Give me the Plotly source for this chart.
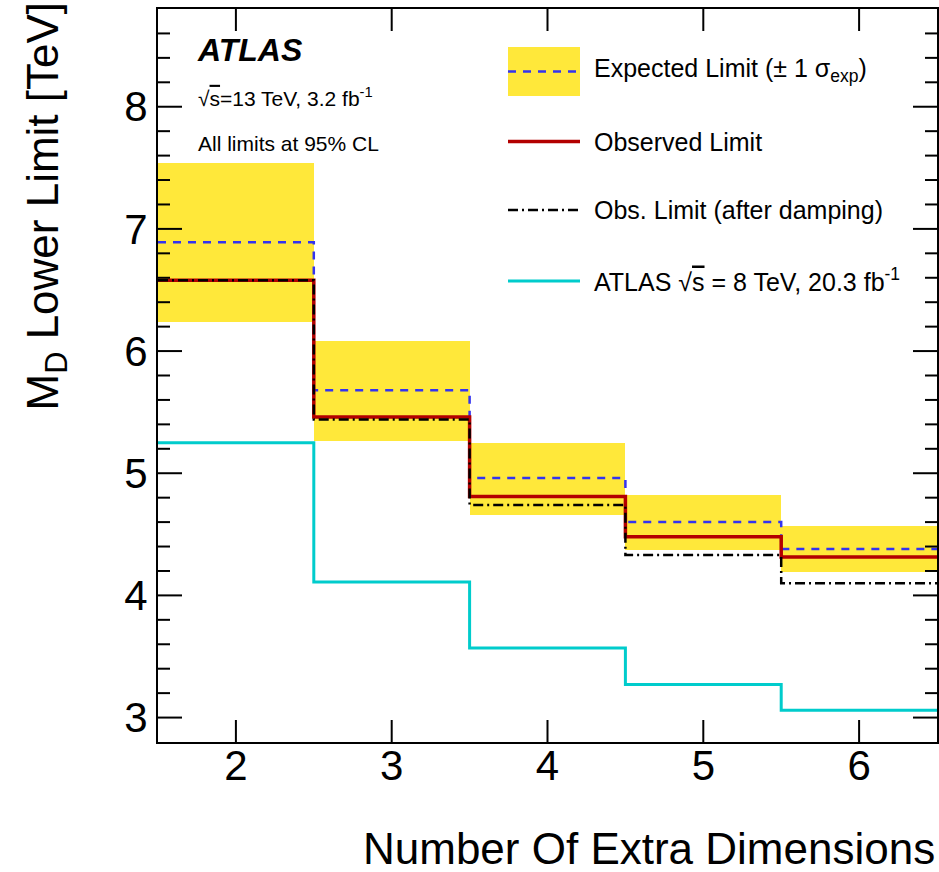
import plotly.graph_objects as go

# Number of extra dimensions (bin centres) and bin edges
n_dims = [2, 3, 4, 5, 6]
edges = [1.5, 2.5, 3.5, 4.5, 5.5, 6.5]

# Lower limits on M_D [TeV]
expected = [6.89, 5.68, 4.96, 4.60, 4.38]
exp_up = [7.54, 6.08, 5.25, 4.82, 4.57]
exp_down = [6.24, 5.26, 4.66, 4.37, 4.19]
observed = [6.58, 5.46, 4.81, 4.48, 4.315]
observed_damped = [6.58, 5.44, 4.74, 4.33, 4.10]
atlas_8tev = [5.25, 4.11, 3.57, 3.27, 3.06]

# Axis ranges and ticks
x_range = [1.5, 6.5]
y_range = [2.8, 8.8]
x_ticks = [2, 3, 4, 5, 6]
y_ticks = [3, 4, 5, 6, 7, 8]
y_minor_ticks = [3.2, 3.4, 3.6, 3.8, 4.2, 4.4, 4.6, 4.8, 5.2, 5.4, 5.6, 5.8,
                 6.2, 6.4, 6.6, 6.8, 7.2, 7.4, 7.6, 7.8, 8.2, 8.4, 8.6]

W, H = 939, 872
L, R, T, B = 158, 2, 9, 130
FONT = "Liberation Sans, Arial, Helvetica, sans-serif"

YELLOW = "#ffe83a"
BLUE = "#3333f0"
RED = "#b30000"
CYAN = "#00cccc"

SQRT_S = "√<span style='text-decoration:overline'>s</span>"

# Plot-area size in pixels, used to express tick lengths in axis units
PLOT_W = W - L - R
PLOT_H = H - T - B
X_PER_PX = (x_range[1] - x_range[0]) / PLOT_W
Y_PER_PX = (y_range[1] - y_range[0]) / PLOT_H


def step(vals):
    return vals + [vals[-1]]


def px(xp):
    return (xp - L) / PLOT_W


def py(yp):
    return 1 - (yp - T) / PLOT_H


fig = go.Figure()

# ±1 sigma expected band, one box per bin
fig.add_trace(go.Bar(
    x=n_dims, y=[u - d for u, d in zip(exp_up, exp_down)], base=exp_down,
    width=1.0, marker=dict(color=YELLOW, line=dict(width=0)),
    showlegend=False, hoverinfo="skip"))

fig.add_trace(go.Scatter(
    x=edges, y=step(atlas_8tev), mode="lines", line_shape="hv",
    line=dict(color=CYAN, width=3), showlegend=False))
fig.add_trace(go.Scatter(
    x=edges, y=step(expected), mode="lines", line_shape="hv",
    line=dict(color=BLUE, width=2.5, dash="8px,7px"), showlegend=False))
fig.add_trace(go.Scatter(
    x=edges, y=step(observed), mode="lines", line_shape="hv",
    line=dict(color=RED, width=3.5), showlegend=False))
fig.add_trace(go.Scatter(
    x=edges, y=step(observed_damped), mode="lines", line_shape="hv",
    line=dict(color="black", width=2.5, dash="10px,4px,2px,4px"), showlegend=False))

# Inward tick marks on all four sides of the frame, as short line segments
tx, ty = [], []
dx = 22 * Y_PER_PX
for xv in x_ticks:
    tx += [xv, xv, None, xv, xv, None]
    ty += [y_range[0], y_range[0] + dx, None, y_range[1], y_range[1] - dx, None]
for vals, ln in ((y_ticks, 24), (y_minor_ticks, 12)):
    d = ln * X_PER_PX
    for yv in vals:
        tx += [x_range[0], x_range[0] + d, None, x_range[1], x_range[1] - d, None]
        ty += [yv, yv, None, yv, yv, None]
fig.add_trace(go.Scatter(
    x=tx, y=ty, mode="lines", line=dict(color="black", width=2),
    connectgaps=False, showlegend=False, hoverinfo="skip"))

fig.update_layout(
    template="none",
    xaxis=dict(
        range=x_range, tickmode="array", tickvals=x_ticks, ticks="",
        showline=True, linecolor="black", linewidth=2, mirror=True,
        showgrid=False, zeroline=False,
        ticklabelstandoff=-14,
        tickfont=dict(family=FONT, size=42, color="black"),
    ),
    yaxis=dict(
        range=y_range, tickmode="array", tickvals=y_ticks, ticks="",
        showline=True, linecolor="black", linewidth=2, mirror=True,
        showgrid=False, zeroline=False,
        tickfont=dict(family=FONT, size=42, color="black"),
    ),
)

shapes = []
annotations = []

# Legend keys
x0k, x1k = px(508), px(580)
shapes.append(dict(type="rect", xref="paper", yref="paper",
                   x0=x0k, x1=x1k, y0=py(96), y1=py(47),
                   fillcolor=YELLOW, line=dict(width=0), layer="above"))
shapes.append(dict(type="line", xref="paper", yref="paper",
                   x0=x0k, x1=x1k, y0=py(71.5), y1=py(71.5),
                   line=dict(color=BLUE, width=2.5, dash="8px,7px")))
shapes.append(dict(type="line", xref="paper", yref="paper",
                   x0=x0k, x1=x1k, y0=py(141.5), y1=py(141.5),
                   line=dict(color=RED, width=3.5)))
shapes.append(dict(type="line", xref="paper", yref="paper",
                   x0=x0k, x1=x1k, y0=py(210), y1=py(210),
                   line=dict(color="black", width=2.5, dash="10px,4px,2px,4px")))
shapes.append(dict(type="line", xref="paper", yref="paper",
                   x0=x0k, x1=x1k, y0=py(281), y1=py(281),
                   line=dict(color=CYAN, width=3)))

legend_text = [
    ("Expected Limit (± 1 σ<sub>exp</sub>)", 70),
    ("Observed Limit", 142),
    ("Obs. Limit (after damping)", 210),
    ("ATLAS " + SQRT_S + " = 8 TeV, 20.3 fb<sup>-1</sup>", 280),
]
for txt, yp in legend_text:
    annotations.append(dict(text=txt, xref="paper", yref="paper",
                            x=px(592), y=py(yp), xanchor="left", yanchor="middle",
                            showarrow=False,
                            font=dict(family=FONT, size=25, color="black")))

# ATLAS label block
annotations.append(dict(text="<b><i>ATLAS</i></b>", xref="paper", yref="paper",
                        x=px(195), y=py(50), xanchor="left", yanchor="middle",
                        showarrow=False, font=dict(family=FONT, size=32, color="black")))
annotations.append(dict(text=SQRT_S + "=13 TeV, 3.2 fb<sup>-1</sup>", xref="paper", yref="paper",
                        x=px(196), y=py(97), xanchor="left", yanchor="middle",
                        showarrow=False, font=dict(family=FONT, size=21, color="black")))
annotations.append(dict(text="All limits at 95% CL", xref="paper", yref="paper",
                        x=px(196), y=py(143), xanchor="left", yanchor="middle",
                        showarrow=False, font=dict(family=FONT, size=21, color="black")))

# Axis titles (right/top aligned)
annotations.append(dict(text="Number Of Extra Dimensions", xref="paper", yref="paper",
                        x=px(937), y=py(848), xanchor="right", yanchor="middle",
                        showarrow=False, font=dict(family=FONT, size=44, color="black")))
annotations.append(dict(text="M<sub>D</sub> Lower Limit [TeV]", xref="paper", yref="paper",
                        x=px(46), y=py(0), xanchor="center", yanchor="top",
                        textangle=-90, showarrow=False,
                        font=dict(family=FONT, size=44, color="black")))

fig.update_layout(
    width=W, height=H,
    margin=dict(l=L, r=R, t=T, b=B),
    paper_bgcolor="white", plot_bgcolor="white",
    shapes=shapes, annotations=annotations,
    bargap=0, showlegend=False,
)

fig.write_html("out.html")
